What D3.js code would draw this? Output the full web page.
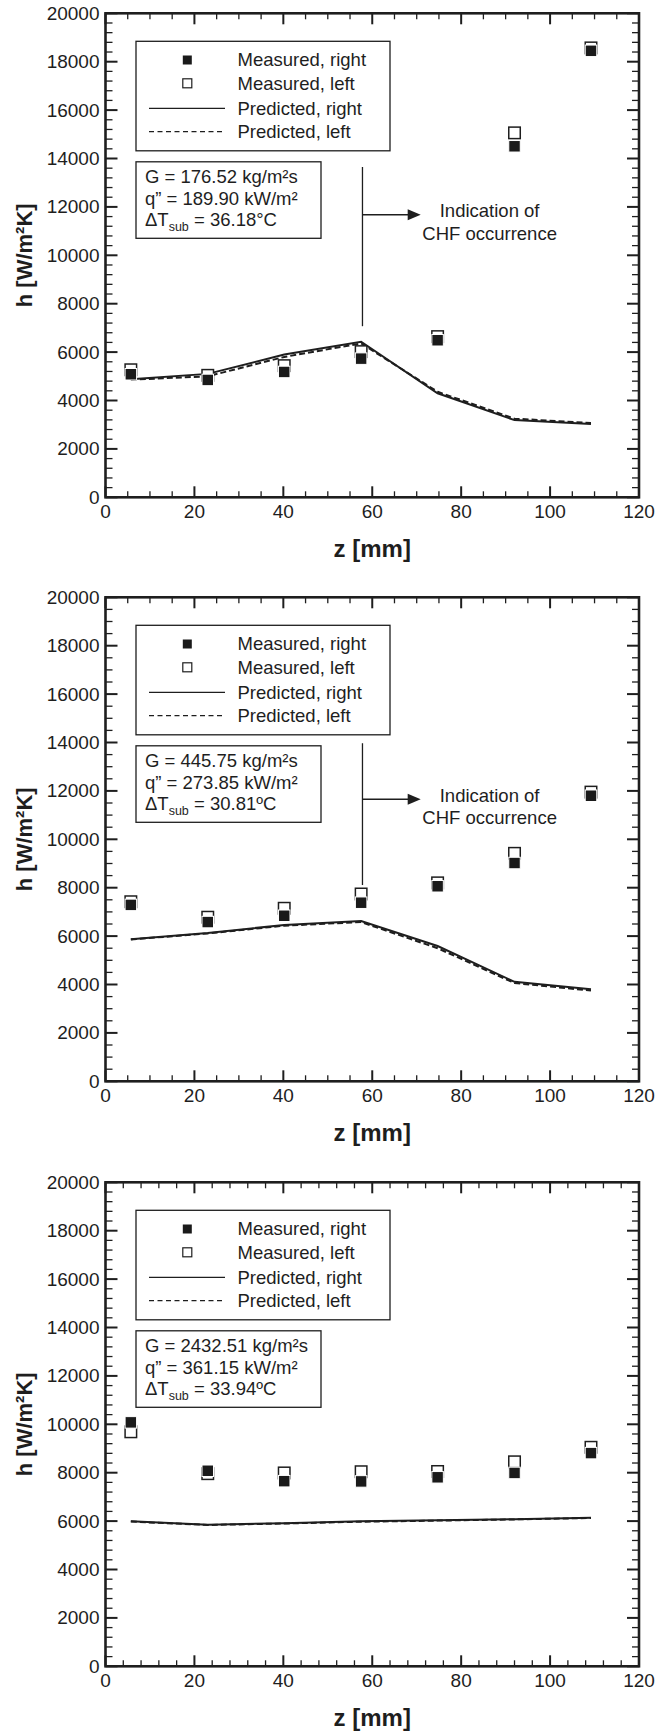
<!DOCTYPE html>
<html>
<head>
<meta charset="utf-8">
<script src="https://cdnjs.cloudflare.com/ajax/libs/d3/7.8.5/d3.min.js"></script>
<style>
  body { margin: 0; background: #fff; }
  svg text { font-family: "Liberation Sans", Arial, Helvetica, sans-serif; fill: #1e1e1e; }
</style>
</head>
<body>
<svg id="chart" width="669" height="1734"></svg>
<script>
// axial positions of the thermocouples [mm]
var zPos = [5.7, 23.0, 40.2, 57.5, 74.7, 92.0, 109.2];
var xTicks = [0, 20, 40, 60, 80, 100, 120];
var yTicks = [0, 2000, 4000, 6000, 8000, 10000, 12000, 14000, 16000, 18000, 20000];

// panel 1
var measRight1 = [5085, 4850, 5180, 5730, 6490, 14505, 18450];
var measLeft1  = [5270, 5040, 5440, 6020, 6640, 15060, 18570];
var predRight1 = [4880, 5100, 5900, 6430, 4300, 3190, 3030];
var predLeft1  = [4860, 5000, 5800, 6360, 4360, 3250, 3070];
// panel 2
var measRight2 = [7290, 6580, 6840, 7380, 8060, 9020, 11800];
var measLeft2  = [7420, 6780, 7150, 7740, 8200, 9420, 11950];
var predRight2 = [5870, 6130, 6460, 6620, 5590, 4110, 3800];
var predLeft2  = [5860, 6110, 6430, 6580, 5500, 4060, 3750];
// panel 3
var measRight3 = [10080, 8080, 7650, 7640, 7810, 7990, 8810];
var measLeft3  = [9690, 7960, 7990, 8040, 8050, 8450, 9050];
var predRight3 = [5990, 5850, 5910, 5990, 6035, 6080, 6140];
var predLeft3  = [5980, 5840, 5900, 5975, 6020, 6070, 6130];

var legendLabels = ["Measured, right", "Measured, left", "Predicted, right", "Predicted, left"];
var info1 = ["G = 176.52 kg/m²s", "q” = 189.90 kW/m²", "36.18°C"];
var info2 = ["G = 445.75 kg/m²s", "q” = 273.85 kW/m²", "30.81ºC"];
var info3 = ["G = 2432.51 kg/m²s", "q” = 361.15 kW/m²", "33.94ºC"];

var panels = [
  {top: 13.3, mr: measRight1, ml: measLeft1, pr: predRight1, pl: predLeft1, info: info1,
   minorX: 5, minorY: 400, chf: {z: 57.8, hTop: 13650, hBot: 7070, hArrow: 11680, zTip: 70.9, zText: 86.4}},
  {top: 597.3, mr: measRight2, ml: measLeft2, pr: predRight2, pl: predLeft2, info: info2,
   minorX: 5, minorY: 500, chf: {z: 57.8, hTop: 13970, hBot: 8110, hArrow: 11650, zTip: 70.9, zText: 86.4}},
  {top: 1182.3, mr: measRight3, ml: measLeft3, pr: predRight3, pl: predLeft3, info: info3,
   minorX: 4, minorY: 400, chf: null}
];

var svg = d3.select("#chart");
var left = 105.5, right = 639, height = 484;
var sq = 11.5;
var fs = "18.5px";

function drawPanel(p) {
  var g = svg.append("g").attr("transform", "translate(0," + p.top + ")");
  var x = d3.scaleLinear().domain([0, 120]).range([left, right]);
  var y = d3.scaleLinear().domain([0, 20000]).range([height, 0]);

  // minor + major ticks on all four sides
  var ticks = g.append("g").attr("stroke", "#1e1e1e");
  d3.range(0, 120.001, p.minorX).forEach(function(v) {
    if (xTicks.indexOf(v) >= 0) return;
    ticks.append("line").attr("x1", x(v)).attr("x2", x(v)).attr("y1", height).attr("y2", height - 6).attr("stroke-width", 1.3);
    ticks.append("line").attr("x1", x(v)).attr("x2", x(v)).attr("y1", 0).attr("y2", 6).attr("stroke-width", 1.3);
  });
  d3.range(0, 20000.001, p.minorY).forEach(function(v) {
    if (yTicks.indexOf(v) >= 0) return;
    ticks.append("line").attr("y1", y(v)).attr("y2", y(v)).attr("x1", left).attr("x2", left + 7).attr("stroke-width", 1.3);
    ticks.append("line").attr("y1", y(v)).attr("y2", y(v)).attr("x1", right).attr("x2", right - 7).attr("stroke-width", 1.3);
  });
  xTicks.forEach(function(v) {
    ticks.append("line").attr("x1", x(v)).attr("x2", x(v)).attr("y1", height).attr("y2", height - 11).attr("stroke-width", 2);
    ticks.append("line").attr("x1", x(v)).attr("x2", x(v)).attr("y1", 0).attr("y2", 11).attr("stroke-width", 2);
  });
  yTicks.forEach(function(v) {
    ticks.append("line").attr("y1", y(v)).attr("y2", y(v)).attr("x1", left).attr("x2", left + 12).attr("stroke-width", 2);
    ticks.append("line").attr("y1", y(v)).attr("y2", y(v)).attr("x1", right).attr("x2", right - 12).attr("stroke-width", 2);
  });

  g.append("rect").attr("x", left).attr("y", 0).attr("width", right - left).attr("height", height)
    .attr("fill", "none").attr("stroke", "#1e1e1e").attr("stroke-width", 2.6);

  // tick labels
  g.selectAll(".xl").data(xTicks).enter().append("text")
    .attr("x", function(d) { return x(d); }).attr("y", height + 21)
    .attr("text-anchor", "middle").style("font-size", "19px").text(function(d) { return d; });
  g.selectAll(".yl").data(yTicks).enter().append("text")
    .attr("x", left - 6).attr("y", function(d) { return y(d) + 6.5; })
    .attr("text-anchor", "end").style("font-size", "19px").text(function(d) { return d; });

  // axis titles
  g.append("text").attr("x", (left + right) / 2).attr("y", height + 60)
    .attr("text-anchor", "middle").style("font-size", "24px").style("font-weight", "bold").text("z [mm]");
  g.append("text").attr("transform", "translate(32," + (height / 2) + ") rotate(-90)")
    .attr("text-anchor", "middle").style("font-size", "22px").style("font-weight", "bold").text("h [W/m²K]");

  // predicted lines
  var line = d3.line().x(function(d) { return x(d[0]); }).y(function(d) { return y(d[1]); });
  g.append("path").datum(d3.zip(zPos, p.pl)).attr("d", line)
    .attr("fill", "none").attr("stroke", "#1e1e1e").attr("stroke-width", 2).attr("stroke-dasharray", "6,3");
  g.append("path").datum(d3.zip(zPos, p.pr)).attr("d", line)
    .attr("fill", "none").attr("stroke", "#1e1e1e").attr("stroke-width", 2);

  // measured points
  g.selectAll(".ml").data(d3.zip(zPos, p.ml)).enter().append("rect")
    .attr("x", function(d) { return x(d[0]) - sq / 2; }).attr("y", function(d) { return y(d[1]) - sq / 2; })
    .attr("width", sq).attr("height", sq).attr("fill", "#fff").attr("stroke", "#1e1e1e").attr("stroke-width", 1.5);
  g.selectAll(".mr").data(d3.zip(zPos, p.mr)).enter().append("rect")
    .attr("x", function(d) { return x(d[0]) - sq / 2; }).attr("y", function(d) { return y(d[1]) - sq / 2; })
    .attr("width", sq).attr("height", sq).attr("fill", "#1a1a1a").attr("stroke", "#fff").attr("stroke-width", 1);

  // legend
  var lg = g.append("g");
  lg.append("rect").attr("x", 136).attr("y", 28).attr("width", 254).attr("height", 109.5)
    .attr("fill", "#fff").attr("stroke", "#1e1e1e").attr("stroke-width", 1.3);
  var rowY = [46.7, 70, 95, 118.4];
  legendLabels.forEach(function(t, i) {
    lg.append("text").attr("x", 237.5).attr("y", rowY[i] + 6.5).style("font-size", fs).text(t);
  });
  lg.append("rect").attr("x", 187.3 - 4.5).attr("y", rowY[0] - 4.5).attr("width", 9).attr("height", 9).attr("fill", "#1a1a1a");
  lg.append("rect").attr("x", 187.3 - 4.5).attr("y", rowY[1] - 4.5).attr("width", 9).attr("height", 9)
    .attr("fill", "#fff").attr("stroke", "#1e1e1e").attr("stroke-width", 1.2);
  lg.append("line").attr("x1", 149).attr("x2", 225).attr("y1", rowY[2]).attr("y2", rowY[2]).attr("stroke", "#1e1e1e").attr("stroke-width", 1.2);
  lg.append("line").attr("x1", 149).attr("x2", 225).attr("y1", rowY[3]).attr("y2", rowY[3]).attr("stroke", "#1e1e1e")
    .attr("stroke-width", 1.2).attr("stroke-dasharray", "5,3.5");

  // conditions box
  var ib = g.append("g");
  ib.append("rect").attr("x", 136).attr("y", 148.5).attr("width", 185).attr("height", 76.5)
    .attr("fill", "#fff").attr("stroke", "#1e1e1e").attr("stroke-width", 1.3);
  ib.append("text").attr("x", 145).attr("y", 170).style("font-size", fs).text(p.info[0]);
  ib.append("text").attr("x", 145).attr("y", 191.5).style("font-size", fs).text(p.info[1]);
  var t3 = ib.append("text").attr("x", 145).attr("y", 213).style("font-size", fs);
  t3.append("tspan").text("ΔT");
  t3.append("tspan").attr("dy", 5).style("font-size", "12.5px").text("sub");
  t3.append("tspan").attr("dy", -5).text(" = " + p.info[2]);

  // CHF indication
  if (p.chf) {
    var c = p.chf;
    g.append("line").attr("x1", x(c.z)).attr("x2", x(c.z)).attr("y1", y(c.hTop)).attr("y2", y(c.hBot))
      .attr("stroke", "#1e1e1e").attr("stroke-width", 1.3);
    g.append("line").attr("x1", x(c.z)).attr("x2", x(c.zTip) - 10).attr("y1", y(c.hArrow)).attr("y2", y(c.hArrow))
      .attr("stroke", "#1e1e1e").attr("stroke-width", 1.5);
    var tx = x(c.zTip), ty = y(c.hArrow);
    g.append("path").attr("d", "M" + tx + "," + ty + "L" + (tx - 13) + "," + (ty - 5.5) + "L" + (tx - 13) + "," + (ty + 5.5) + "Z")
      .attr("fill", "#1e1e1e");
    g.append("text").attr("x", x(c.zText)).attr("y", ty + 2.5).attr("text-anchor", "middle").style("font-size", fs).text("Indication of");
    g.append("text").attr("x", x(c.zText)).attr("y", ty + 25).attr("text-anchor", "middle").style("font-size", fs).text("CHF occurrence");
  }
}

panels.forEach(drawPanel);
</script>
</body>
</html>
